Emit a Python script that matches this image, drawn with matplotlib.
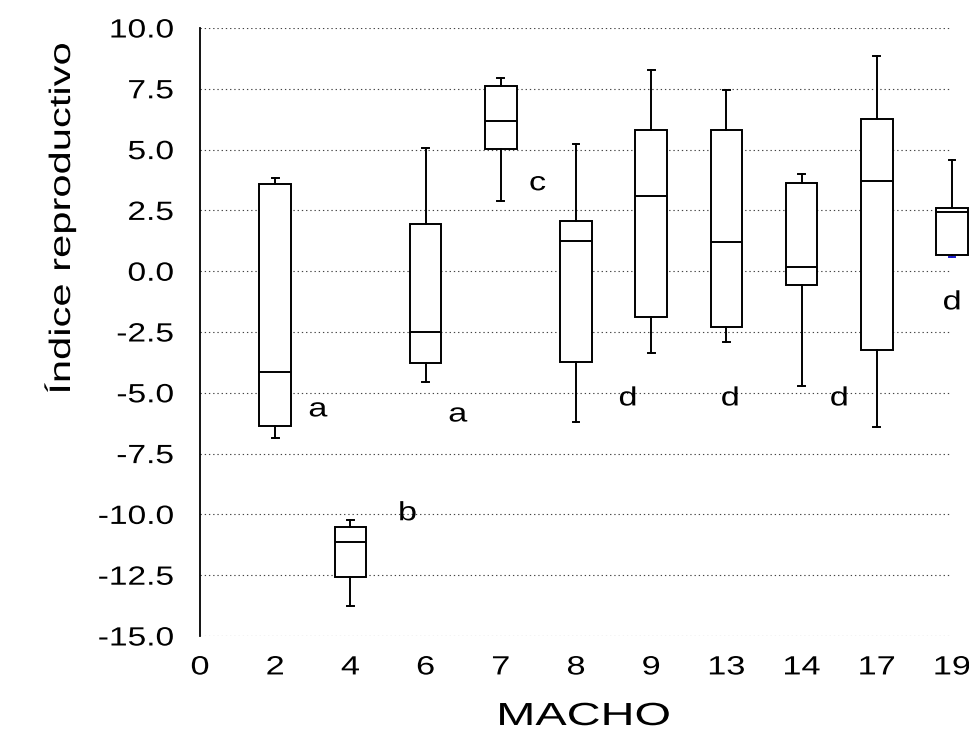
import matplotlib
matplotlib.use("Agg")
import matplotlib.pyplot as plt
import matplotlib.patheffects as pe
from matplotlib.transforms import Affine2D

plt.rcParams['font.family'] = ['Liberation Sans', 'DejaVu Sans']

# Box summaries, one entry per male
machos = ['2', '4', '6', '7', '8', '9', '13', '14', '17', '19']
whis_lo = [-6.85, -13.77, -4.55, 2.88, -6.21, -3.38, -2.92, -4.70, -6.41, 0.59]
q1 = [-6.37, -12.59, -3.77, 5.02, -3.73, -1.88, -2.29, -0.56, -3.22, 0.65]
medians = [-4.14, -11.13, -2.51, 6.16, 1.23, 3.11, 1.22, 0.16, 3.69, 2.43]
q3 = [3.59, -10.53, 1.93, 7.61, 2.07, 5.81, 5.80, 3.61, 6.24, 2.61]
whis_hi = [3.84, -10.21, 5.08, 7.95, 5.22, 8.27, 7.47, 4.00, 8.84, 4.56]

# group letters (Tukey-type) and where they sit
letters = ['a', 'a', 'b', 'c', 'd', 'd', 'd', 'd']
letter_x = [1.57, 3.43, 2.76, 4.49, 5.69, 7.05, 8.50, 10.0]
letter_y = [-5.97, -6.18, -10.24, 3.33, -5.52, -5.52, -5.52, -1.57]


class Stretch(pe.AbstractPathEffect):
    """widen glyphs along the text direction (the original uses wide type)"""
    def __init__(self, sx, anchor='center'):
        super().__init__()
        self.sx = sx
        self.anchor = anchor

    def draw_path(self, renderer, gc, tpath, affine, rgbFace=None):
        ext = tpath.get_extents()
        if self.anchor == 'right':
            x0 = ext.x1
        elif self.anchor == 'left':
            x0 = ext.x0
        else:
            x0 = (ext.x0 + ext.x1) / 2
        tr = Affine2D().translate(-x0, 0).scale(self.sx, 1).translate(x0, 0)
        renderer.draw_path(gc, tpath, tr + affine, rgbFace)


fig = plt.figure(figsize=(9.7, 7.31), dpi=100)
ax = fig.add_axes([200 / 970, 95 / 731, 752 / 970, 608 / 731])

stats = []
for i, m in enumerate(machos):
    stats.append({'label': m, 'whislo': whis_lo[i], 'q1': q1[i], 'med': medians[i],
                  'q3': q3[i], 'whishi': whis_hi[i], 'fliers': []})

positions = list(range(1, len(machos) + 1))
bp = ax.bxp(stats, positions=positions, widths=0.42, capwidths=0.09,
            patch_artist=True, manage_ticks=False, showfliers=False,
            boxprops=dict(facecolor='white', edgecolor='black', linewidth=1.4),
            medianprops=dict(color='black', linewidth=1.4),
            whiskerprops=dict(color='black', linewidth=1.4),
            capprops=dict(color='black', linewidth=1.4),
            zorder=3)
for group in bp.values():
    for artist in group:
        artist.set_clip_on(False)
bp['caps'][-2].set_color('#1a1acc')

for t, x, y in zip(letters, letter_x, letter_y):
    ax.text(x, y, t, ha='center', va='baseline', fontsize=19,
            path_effects=[Stretch(1.3)], zorder=4)

ax.set_xlim(0, 10)
ax.set_ylim(-15, 10)
ax.set_xticks(range(0, 11))
ax.set_xticklabels(['0'] + machos)
yt = [10.0 - 2.5 * k for k in range(11)]
ax.set_yticks(yt)
ax.set_yticklabels([f'{v:.1f}' for v in yt])

ax.grid(axis='y', color='#444444', linestyle=(0, (1.2, 2.6)), linewidth=0.8, zorder=1)
ax.set_axisbelow(True)
for s in ['top', 'right', 'bottom']:
    ax.spines[s].set_visible(False)
ax.spines['left'].set_linewidth(1.3)

ax.tick_params(axis='both', length=0, labelsize=19)
ax.tick_params(axis='y', pad=19)
ax.tick_params(axis='x', pad=14)
for tl in ax.get_yticklabels():
    tl.set_path_effects([Stretch(1.27, 'right')])
for tl in ax.get_xticklabels():
    tl.set_path_effects([Stretch(1.3)])

fig.text(70 / 970, 1 - 218 / 731, 'Índice reproductivo', rotation=90,
         rotation_mode='anchor', ha='center', va='baseline', fontsize=21.3,
         path_effects=[Stretch(1.41)])
fig.text(584 / 970, 1 - 725 / 731, 'MACHO', ha='center', va='baseline',
         fontsize=23, path_effects=[Stretch(1.47)])

fig.savefig('out.png', dpi=100, facecolor='white')
